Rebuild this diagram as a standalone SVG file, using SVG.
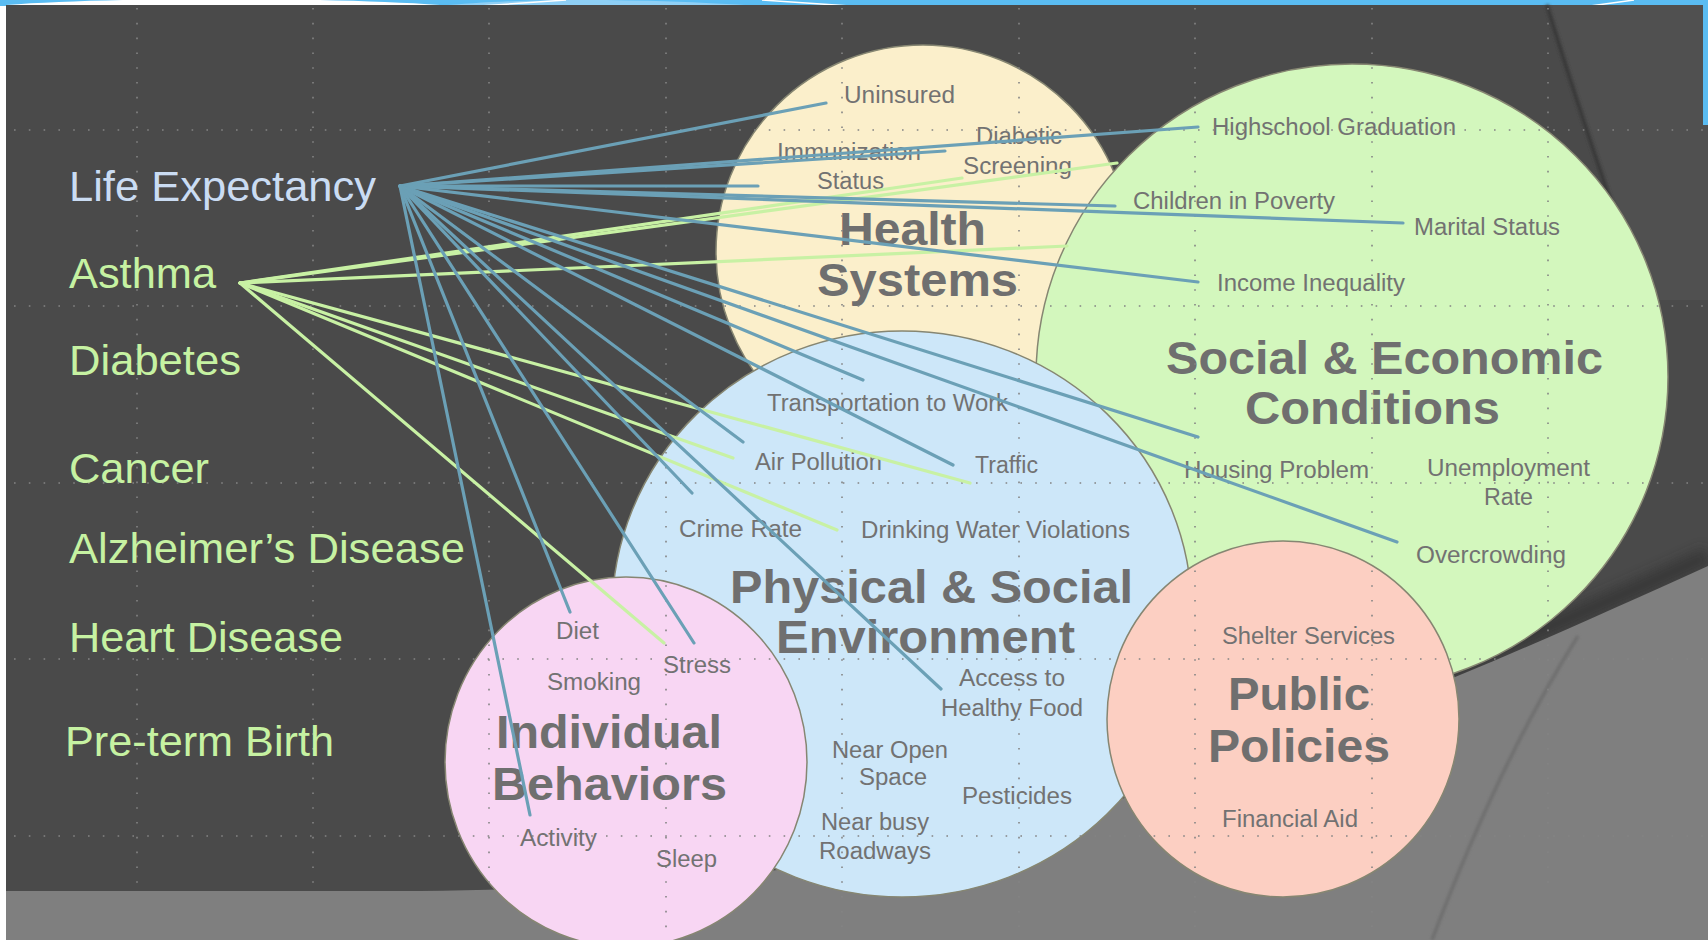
<svg xmlns="http://www.w3.org/2000/svg" width="1708" height="940" viewBox="0 0 1708 940">
<defs>
<style>
.lbl{font-family:"Liberation Sans",Arial,sans-serif;font-size:43px;fill:#c6f2a2}
.le{fill:#cadcf3}
.title{font-family:"Liberation Sans",Arial,sans-serif;font-weight:bold;font-size:46px;fill:#6f6f6f}
.item{font-family:"Liberation Sans",Arial,sans-serif;font-size:23px;fill:#727272}
.node{stroke:#868672;stroke-width:1.5}
.grid{stroke:#848484;stroke-width:1.6;stroke-dasharray:1.6 13.2;fill:none}
.cb{stroke:#6ba0b6;stroke-width:3.2;stroke-linecap:round;fill:none}
.cg{stroke:#c8f1a4;stroke-width:3.2;stroke-linecap:round;fill:none}
</style>
<filter id="blur6" x="-20%" y="-20%" width="140%" height="140%"><feGaussianBlur stdDeviation="6"/></filter>
<filter id="blur2" x="-20%" y="-20%" width="140%" height="140%"><feGaussianBlur stdDeviation="1.8"/></filter>
</defs>

<g id="background">
<rect x="0" y="0" width="1708" height="940" fill="#ffffff"/>
<rect x="0" y="0" width="1708" height="6" fill="#5abcf2"/>
<path d="M6,5 C110,-3 330,-3 440,5 Z" fill="#ffffff"/>
<path d="M440,6 C520,-2 640,-2 760,6 Z" fill="#8fd0f6"/>
<path d="M480,6 L566,0" stroke="#ffffff" stroke-width="1.5"/>
<path d="M762,0 L850,6" stroke="#ffffff" stroke-width="1.5"/>
<path d="M1590,6 L1634,0" stroke="#ffffff" stroke-width="1.5"/>
<rect x="1703" y="0" width="5" height="125" fill="#5abcf2"/>
<rect x="6" y="5" width="1697" height="935" fill="#4a4a4a"/>
<rect x="1703" y="125" width="5" height="815" fill="#4a4a4a"/>
<path d="M1547,5 Q1585,130 1645,300 L1708,300 L1708,125 L1703,125 L1703,5 Z" fill="#505050"/>
<path d="M1547,5 Q1585,130 1645,300" stroke="#383838" stroke-width="4" fill="none" filter="url(#blur2)"/>
<path d="M1118,790 C1300,735 1480,660 1708,556" stroke="#2e2e2e" stroke-width="18" fill="none" opacity="0.6" filter="url(#blur6)"/>
<path d="M6,891 L420,891 C800,888 1000,835 1118,800 C1300,745 1480,670 1708,566 L1708,940 L6,940 Z" fill="#7f7f7f"/>
<path d="M1578,636 Q1500,760 1432,940" stroke="#6c6c6c" stroke-width="3" fill="none" filter="url(#blur2)"/>
</g>

<g id="node-health-systems">
<circle class="node" cx="923" cy="252" r="207" fill="#fbefcb"/>
<text class="item" x="844" y="103" textLength="111" lengthAdjust="spacingAndGlyphs">Uninsured</text>
<text class="item" x="777" y="160" textLength="144" lengthAdjust="spacingAndGlyphs">Immunization</text>
<text class="item" x="817" y="189" textLength="67" lengthAdjust="spacingAndGlyphs">Status</text>
<text class="item" x="976" y="144" textLength="86" lengthAdjust="spacingAndGlyphs">Diabetic</text>
<text class="item" x="963" y="174" textLength="109" lengthAdjust="spacingAndGlyphs">Screening</text>
<text class="title" x="839" y="245" textLength="147" lengthAdjust="spacingAndGlyphs">Health</text>
<text class="title" x="817" y="296" textLength="201" lengthAdjust="spacingAndGlyphs">Systems</text>
</g>

<g id="node-social-economic">
<ellipse class="node" cx="1352" cy="377" rx="316" ry="313" fill="#d3f7bd"/>
<text class="item" x="1212" y="135" textLength="244" lengthAdjust="spacingAndGlyphs">Highschool Graduation</text>
<text class="item" x="1133" y="209" textLength="202" lengthAdjust="spacingAndGlyphs">Children in Poverty</text>
<text class="item" x="1414" y="235" textLength="146" lengthAdjust="spacingAndGlyphs">Marital Status</text>
<text class="item" x="1217" y="291" textLength="188" lengthAdjust="spacingAndGlyphs">Income Inequality</text>
<text class="title" x="1166" y="374" textLength="437" lengthAdjust="spacingAndGlyphs">Social &amp; Economic</text>
<text class="title" x="1245" y="424" textLength="255" lengthAdjust="spacingAndGlyphs">Conditions</text>
<text class="item" x="1184" y="478" textLength="185" lengthAdjust="spacingAndGlyphs">Housing Problem</text>
<text class="item" x="1427" y="476" textLength="163" lengthAdjust="spacingAndGlyphs">Unemployment</text>
<text class="item" x="1484" y="505" textLength="49" lengthAdjust="spacingAndGlyphs">Rate</text>
<text class="item" x="1416" y="563" textLength="150" lengthAdjust="spacingAndGlyphs">Overcrowding</text>
</g>

<g id="node-physical-social">
<ellipse class="node" cx="902" cy="614" rx="290" ry="283" fill="#cde7f9"/>
<text class="item" x="767" y="411" textLength="241" lengthAdjust="spacingAndGlyphs">Transportation to Work</text>
<text class="item" x="755" y="470" textLength="127" lengthAdjust="spacingAndGlyphs">Air Pollution</text>
<text class="item" x="975" y="473" textLength="63" lengthAdjust="spacingAndGlyphs">Traffic</text>
<text class="item" x="679" y="537" textLength="123" lengthAdjust="spacingAndGlyphs">Crime Rate</text>
<text class="item" x="861" y="538" textLength="269" lengthAdjust="spacingAndGlyphs">Drinking Water Violations</text>
<text class="title" x="730" y="603" textLength="403" lengthAdjust="spacingAndGlyphs">Physical &amp; Social</text>
<text class="title" x="776" y="653" textLength="299" lengthAdjust="spacingAndGlyphs">Environment</text>
<text class="item" x="959" y="686" textLength="106" lengthAdjust="spacingAndGlyphs">Access to</text>
<text class="item" x="941" y="716" textLength="142" lengthAdjust="spacingAndGlyphs">Healthy Food</text>
<text class="item" x="832" y="758" textLength="116" lengthAdjust="spacingAndGlyphs">Near Open</text>
<text class="item" x="859" y="785" textLength="68" lengthAdjust="spacingAndGlyphs">Space</text>
<text class="item" x="962" y="804" textLength="110" lengthAdjust="spacingAndGlyphs">Pesticides</text>
<text class="item" x="821" y="830" textLength="108" lengthAdjust="spacingAndGlyphs">Near busy</text>
<text class="item" x="819" y="859" textLength="112" lengthAdjust="spacingAndGlyphs">Roadways</text>
</g>

<g id="node-individual-behaviors">
<ellipse class="node" cx="626" cy="762" rx="181" ry="185" fill="#f8d6f3"/>
<text class="item" x="556" y="639" textLength="43" lengthAdjust="spacingAndGlyphs">Diet</text>
<text class="item" x="663" y="673" textLength="68" lengthAdjust="spacingAndGlyphs">Stress</text>
<text class="item" x="547" y="690" textLength="94" lengthAdjust="spacingAndGlyphs">Smoking</text>
<text class="title" x="496" y="748" textLength="226" lengthAdjust="spacingAndGlyphs">Individual</text>
<text class="title" x="492" y="800" textLength="235" lengthAdjust="spacingAndGlyphs">Behaviors</text>
<text class="item" x="520" y="846" textLength="77" lengthAdjust="spacingAndGlyphs">Activity</text>
<text class="item" x="656" y="867" textLength="61" lengthAdjust="spacingAndGlyphs">Sleep</text>
</g>

<g id="node-public-policies">
<ellipse class="node" cx="1283" cy="719" rx="176" ry="178" fill="#fccfc2"/>
<text class="item" x="1222" y="644" textLength="173" lengthAdjust="spacingAndGlyphs">Shelter Services</text>
<text class="title" x="1228" y="710" textLength="142" lengthAdjust="spacingAndGlyphs">Public</text>
<text class="title" x="1208" y="762" textLength="182" lengthAdjust="spacingAndGlyphs">Policies</text>
<text class="item" x="1222" y="827" textLength="136" lengthAdjust="spacingAndGlyphs">Financial Aid</text>
</g>

<g id="grid">
<path class="grid" d="M14,130 H1708 M14,306 H1708 M14,483 H1708 M14,659 H1708 M14,836 H1708"/>
<path class="grid" d="M137,8 V885 M313,8 V885 M489,8 V885 M666,8 V935 M842,8 V935 M1019,8 V935 M1195,8 V935 M1372,8 V935 M1548,8 V885"/>
</g>

<g id="node-life-expectancy"><text class="lbl le" x="69" y="201" textLength="307" lengthAdjust="spacingAndGlyphs">Life Expectancy</text></g>
<g id="node-asthma"><text class="lbl" x="69" y="288" textLength="147" lengthAdjust="spacingAndGlyphs">Asthma</text></g>
<g id="node-diabetes"><text class="lbl" x="69" y="375" textLength="172" lengthAdjust="spacingAndGlyphs">Diabetes</text></g>
<g id="node-cancer"><text class="lbl" x="69" y="483" textLength="140" lengthAdjust="spacingAndGlyphs">Cancer</text></g>
<g id="node-alzheimers"><text class="lbl" x="69" y="563" textLength="396" lengthAdjust="spacingAndGlyphs">Alzheimer’s Disease</text></g>
<g id="node-heart-disease"><text class="lbl" x="69" y="652" textLength="274" lengthAdjust="spacingAndGlyphs">Heart Disease</text></g>
<g id="node-preterm-birth"><text class="lbl" x="65" y="756" textLength="269" lengthAdjust="spacingAndGlyphs">Pre-term Birth</text></g>

<g id="connectors">
<g id="from-asthma">
<path class="cg" d="M240,283 L1117,163"/>
<path class="cg" d="M240,283 L962,178"/>
<path class="cg" d="M240,283 L1067,246"/>
<path class="cg" d="M240,283 L733,458"/>
<path class="cg" d="M240,283 L970,483"/>
<path class="cg" d="M240,283 L837,530"/>
<path class="cg" d="M240,283 L664,643"/>
</g>
<g id="from-life-expectancy">
<path class="cb" d="M400,186 L826,103"/>
<path class="cb" d="M400,186 L1198,127"/>
<path class="cb" d="M400,186 L945,151"/>
<path class="cb" d="M400,186 L758,186"/>
<path class="cb" d="M400,186 L1115,206"/>
<path class="cb" d="M400,186 L1403,223"/>
<path class="cb" d="M400,186 L1198,282"/>
<path class="cb" d="M400,186 L1198,437"/>
<path class="cb" d="M400,186 L1397,542"/>
<path class="cb" d="M400,186 L863,380"/>
<path class="cb" d="M400,186 L953,465"/>
<path class="cb" d="M400,186 L743,442"/>
<path class="cb" d="M400,186 L692,493"/>
<path class="cb" d="M400,186 L941,689"/>
<path class="cb" d="M400,186 L694,643"/>
<path class="cb" d="M400,186 L570,612"/>
<path class="cb" d="M400,186 L530,815"/>
</g>
</g>
</svg>
